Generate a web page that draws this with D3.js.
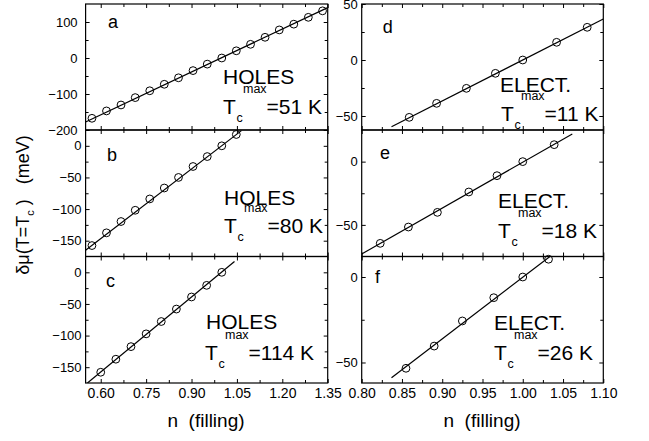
<!DOCTYPE html>
<html><head><meta charset="utf-8">
<script src="https://cdn.jsdelivr.net/npm/d3@7/dist/d3.min.js"></script>
<style>
body{margin:0;background:#fff;}
svg{font-family:Arial,"Liberation Sans",Helvetica,sans-serif;}
.tick text{fill:#000;}
</style></head>
<body><svg id="c" width="649" height="441"></svg>
<script>
// ---- data ----
const nA = [0.571,0.619,0.667,0.714,0.762,0.810,0.857,0.905,0.952,1.000,1.048,1.095,1.143,1.190,1.238,1.286,1.333];
const muA = [-167.5,-147,-130.5,-110,-91,-73,-55,-35,-17,0,20,38,57.5,78,94,113,131];
const nB = [0.571,0.619,0.667,0.714,0.762,0.810,0.857,0.905,0.952,1.000,1.048];
const muB = [-157.7,-137.6,-119.7,-101.9,-84,-66.7,-50,-32.7,-17,0,17.9];
const nC = [0.60,0.65,0.70,0.75,0.80,0.85,0.90,0.95,1.00];
const muC = [-158,-137.4,-117.5,-97.3,-77.8,-58.1,-39,-20.6,0];
const nD = [0.859,0.893,0.930,0.966,1.000,1.042,1.080];
const muD = [-51.2,-38.7,-25.3,-11.9,0,15.8,29.2];
const nE = [0.823,0.858,0.894,0.933,0.968,1.000,1.039];
const muE = [-64.6,-51.7,-40.1,-24,-11.1,0,13.4];
const nF = [0.855,0.890,0.925,0.964,1.000,1.032];
const muF = [-53.4,-40.4,-25.7,-12.1,0,10.4];
// fitted lines: [n0, mu0, n1, mu1]
const fitA = [0.55,-178,1.35,140];
const fitB = [0.55,-165,1.065,24];
const fitC = [0.556,-175,1.042,17];
const fitD = [0.837,-59.6,1.10,36.6];
const fitE = [0.80,-73,1.0615,21.8];
const fitF = [0.837,-58.9,1.036,12.8];
const letters = ["a","b","c","d","e","f"];
const carrier = ["HOLES","HOLES","HOLES","ELECT.","ELECT.","ELECT."];
const tcmax = ["=51 K","=80 K","=114 K","=11 K","=18 K","=26 K"];
const yDomains = [[-200,150],[-175,25],[-175,25],[-62.5,50],[-75,25],[-62,12]];
const yMajor = [[-200,-100,0,100],[-150,-100,-50,0],[-150,-100,-50,0],[-50,0,50],[-50,0],[-50,0]];
const yMinor = [[-150,-50,50],[-125,-75,-25],[-125,-75,-25],[-25,25],[-25],[-25]];
const xTicksL = [0.60,0.75,0.90,1.05,1.20,1.35];
const xMinorL = [0.675,0.825,0.975,1.125,1.275];
const xTicksR = [0.80,0.85,0.90,0.95,1.00,1.05,1.10];
const xMinorR = [0.825,0.875,0.925,0.975,1.025,1.075];
const xLabel = "n  (filling)";

// ---- layout ----
const svg = d3.select("#c");
const xL = d3.scaleLinear().domain([0.55,1.35]).range([85.6,327.7]);
const xR = d3.scaleLinear().domain([0.80,1.10]).range([361.7,603.3]);
const rows = [[4,130],[130,256.5],[256.5,383]];
const panels = [
  {n:nA,mu:muA,fit:fitA,col:0,row:0,lab:[108,28.3],txt:[223,84,223,114.3],pad:8},
  {n:nB,mu:muB,fit:fitB,col:0,row:1,lab:[107,160.7],txt:[224,205,224,233.3],pad:4},
  {n:nC,mu:muC,fit:fitC,col:0,row:2,lab:[106,286.7],txt:[206,329,205,360],pad:4},
  {n:nD,mu:muD,fit:fitD,col:1,row:0,lab:[382.7,33.3],txt:[500,91.7,501,120.5],pad:4},
  {n:nE,mu:muE,fit:fitE,col:1,row:1,lab:[380,159],txt:[498,208.3,498,238.3],pad:4},
  {n:nF,mu:muF,fit:fitF,col:1,row:2,lab:[375,283.3],txt:[494,330,494,360],pad:4}
];

panels.forEach((p,i)=>{
  const x = p.col===0 ? xL : xR;
  const [top,bot] = rows[p.row];
  const y = d3.scaleLinear().domain(yDomains[i]).range([bot,top]);
  const g = svg.append("g");
  const [x0,x1] = x.range();
  const cid = "clip"+i;
  svg.append("clipPath").attr("id",cid).append("rect")
    .attr("x",x0).attr("y",top).attr("width",x1-x0).attr("height",bot-top);

  // axes ticks (inside)
  const styleAx = sel => { sel.select(".domain").remove(); sel.selectAll("line").attr("stroke","#000").attr("stroke-width",1); };
  const ax = (gen, tr) => g.append("g").attr("transform",tr).call(gen).call(styleAx);
  ax(d3.axisLeft(y).tickValues(yMajor[i]).tickSize(-4).tickPadding(p.pad), `translate(${x0},0)`)
    .selectAll("text").attr("font-size",13);
  ax(d3.axisLeft(y).tickValues(yMinor[i]).tickSize(-3).tickFormat(""), `translate(${x0},0)`);
  ax(d3.axisRight(y).tickValues(yMajor[i]).tickSize(-4).tickFormat(""), `translate(${x1},0)`);
  ax(d3.axisRight(y).tickValues(yMinor[i]).tickSize(-3).tickFormat(""), `translate(${x1},0)`);
  const xt = p.col===0 ? xTicksL : xTicksR, xm = p.col===0 ? xMinorL : xMinorR;
  ax(d3.axisTop(x).tickValues(xt).tickSize(-4).tickFormat(""), `translate(0,${top})`);
  ax(d3.axisTop(x).tickValues(xm).tickSize(-3).tickFormat(""), `translate(0,${top})`);
  const bAx = ax(d3.axisBottom(x).tickValues(xt).tickSize(-4).tickPadding(5)
      .tickFormat(p.row===2 ? d3.format(".2f") : ""), `translate(0,${bot})`);
  bAx.selectAll("text").attr("font-size",14);
  ax(d3.axisBottom(x).tickValues(xm).tickSize(-3).tickFormat(""), `translate(0,${bot})`);

  // frame
  g.append("rect").attr("x",x0).attr("y",top).attr("width",x1-x0).attr("height",bot-top)
    .attr("fill","none").attr("stroke","#000").attr("stroke-width",1.2);

  // fit line
  g.append("line").attr("clip-path",`url(#${cid})`)
    .attr("x1",x(p.fit[0])).attr("y1",y(p.fit[1])).attr("x2",x(p.fit[2])).attr("y2",y(p.fit[3]))
    .attr("stroke","#000").attr("stroke-width",1.2);

  // points
  g.selectAll("circle.pt").data(p.n.map((v,k)=>[v,p.mu[k]])).join("circle")
    .attr("class","pt").attr("cx",d=>x(d[0])).attr("cy",d=>y(d[1])).attr("r",3.9)
    .attr("fill","none").attr("stroke","#000").attr("stroke-width",1);

  // letter
  g.append("text").attr("x",p.lab[0]).attr("y",p.lab[1]).attr("font-size",18).text(letters[i]);
  // annotations
  g.append("text").attr("x",p.txt[0]).attr("y",p.txt[1]).attr("font-size",21).text(carrier[i]);
  const tx = p.txt[2], ty = p.txt[3];
  g.append("text").attr("x",tx).attr("y",ty).attr("font-size",21).text("T");
  g.append("text").attr("x",tx+13.5).attr("y",ty+8).attr("font-size",12.5).text("c");
  g.append("text").attr("x",tx+20).attr("y",ty-21).attr("font-size",12.5).text("max");
  g.append("text").attr("x",tx+43.5).attr("y",ty).attr("font-size",21).text(tcmax[i]);
});

// axis titles
svg.append("text").attr("x",206).attr("y",427).attr("text-anchor","middle")
  .attr("font-size",19).style("white-space","pre").text(xLabel);
svg.append("text").attr("x",482).attr("y",427).attr("text-anchor","middle")
  .attr("font-size",19).style("white-space","pre").text(xLabel);
const yl = svg.append("text").attr("transform","translate(28.5,205) rotate(-90)")
  .attr("text-anchor","middle").attr("font-size",18).style("white-space","pre");
yl.append("tspan").text("δμ(T=T");
yl.append("tspan").attr("font-size",11).attr("dy",5).text("c");
yl.append("tspan").attr("dy",-5).text(" )   (meV)");
</script></body></html>
